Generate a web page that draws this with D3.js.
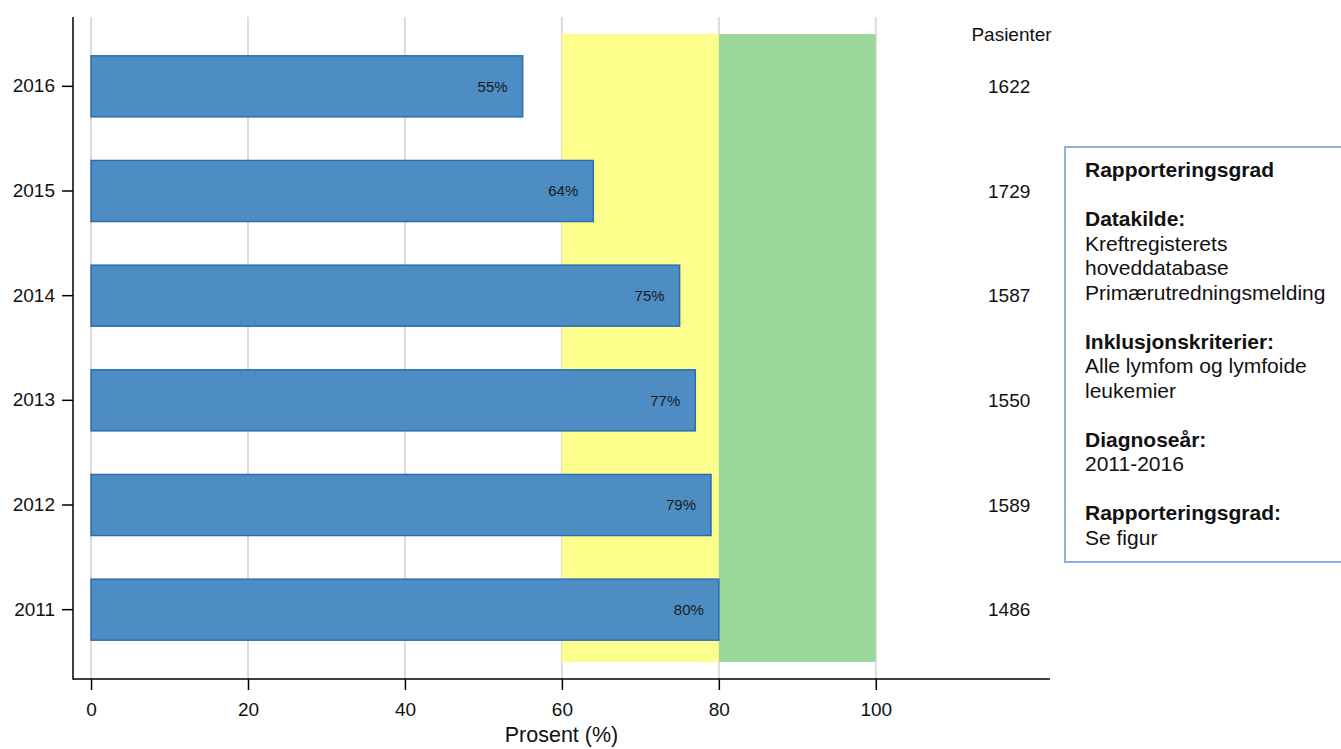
<!DOCTYPE html>
<html>
<head>
<meta charset="utf-8">
<script src="https://cdn.jsdelivr.net/npm/d3@7"></script>
<style>
  html, body { margin: 0; padding: 0; background: #fff; }
  svg { display: block; font-family: "Liberation Sans", Arial, sans-serif; }
</style>
</head>
<body>
<svg id="chart" width="1341" height="749"></svg>
<script>
// Reporting completeness by diagnosis year
const years = ["2016", "2015", "2014", "2013", "2012", "2011"];
const percent = [55, 64, 75, 77, 79, 80];
const patients = [1622, 1729, 1587, 1550, 1589, 1486];
const xTicks = [0, 20, 40, 60, 80, 100];
// Target zones: moderate (yellow) and high (green) completeness
const zones = [
  { from: 60, to: 80, color: "#fefe8c" },
  { from: 80, to: 100, color: "#9bd69a" }
];
const infoLines = [
  { text: "Rapporteringsgrad", bold: true },
  { text: "", bold: false },
  { text: "Datakilde:", bold: true },
  { text: "Kreftregisterets", bold: false },
  { text: "hoveddatabase", bold: false },
  { text: "Primærutredningsmelding", bold: false },
  { text: "", bold: false },
  { text: "Inklusjonskriterier:", bold: true },
  { text: "Alle lymfom og lymfoide", bold: false },
  { text: "leukemier", bold: false },
  { text: "", bold: false },
  { text: "Diagnoseår:", bold: true },
  { text: "2011-2016", bold: false },
  { text: "", bold: false },
  { text: "Rapporteringsgrad:", bold: true },
  { text: "Se figur", bold: false }
];

const svg = d3.select("#chart");

const x = d3.scaleLinear().domain([-2.3, 122.2]).range([73, 1050]);
const y = d3.scaleBand().domain(years).range([34, 662])
  .paddingInner(0.417).paddingOuter(0.2085);

const plotTop = 17, plotBottom = 679;

// vertical gridlines
svg.append("g").selectAll("line").data(xTicks).join("line")
  .attr("x1", d => x(d)).attr("x2", d => x(d))
  .attr("y1", plotTop).attr("y2", plotBottom)
  .attr("stroke", "#dcdcdc").attr("stroke-width", 2);

// target zones spanning all years
const [yStart, yEnd] = y.range();
svg.append("g").selectAll("rect").data(zones).join("rect")
  .attr("x", d => x(d.from)).attr("width", d => x(d.to) - x(d.from))
  .attr("y", yStart).attr("height", yEnd - yStart)
  .attr("fill", d => d.color);

// bars
const rows = years.map((yr, i) => ({ year: yr, pct: percent[i], n: patients[i] }));
svg.append("g").selectAll("rect").data(rows).join("rect")
  .attr("x", x(0)).attr("width", d => x(d.pct) - x(0))
  .attr("y", d => y(d.year)).attr("height", y.bandwidth())
  .attr("fill", "#4e8dc4").attr("stroke", "#2a6db3").attr("stroke-width", 1.5);

// value labels inside bars
svg.append("g").selectAll("text").data(rows).join("text")
  .attr("x", d => x(d.pct) - 15)
  .attr("y", d => y(d.year) + y.bandwidth() / 2)
  .attr("dy", "0.35em")
  .attr("text-anchor", "end")
  .attr("font-size", 15).attr("fill", "#1a1a1a")
  .text(d => d.pct + "%");

// patient counts column
svg.append("text").attr("x", x(117.3)).attr("y", 41)
  .attr("text-anchor", "middle").attr("font-size", 19).attr("fill", "#111")
  .text("Pasienter");
svg.append("g").selectAll("text").data(rows).join("text")
  .attr("x", x(117)).attr("y", d => y(d.year) + y.bandwidth() / 2)
  .attr("dy", "0.35em").attr("text-anchor", "middle")
  .attr("font-size", 19).attr("fill", "#111")
  .text(d => d.n);

// y axis
const yAxis = svg.append("g").attr("transform", "translate(73,0)")
  .call(d3.axisLeft(y).tickSize(11).tickPadding(7));
yAxis.select(".domain").remove();
yAxis.append("line").attr("x1", 0).attr("x2", 0)
  .attr("y1", plotTop).attr("y2", plotBottom + 0.75)
  .attr("stroke", "#000").attr("stroke-width", 1.5);

// x axis
const xAxis = svg.append("g").attr("transform", `translate(0,${plotBottom})`)
  .call(d3.axisBottom(x).tickValues(xTicks).tickSize(11).tickPadding(13));
xAxis.select(".domain").remove();
xAxis.append("line").attr("x1", x.range()[0]).attr("x2", x.range()[1])
  .attr("y1", 0).attr("y2", 0).attr("stroke", "#000").attr("stroke-width", 1.5);

[yAxis, xAxis].forEach(g => {
  g.selectAll(".tick line").attr("stroke", "#000").attr("stroke-width", 1.5);
  g.selectAll(".tick text").attr("font-size", 19).attr("fill", "#111")
    .attr("font-family", "Liberation Sans, Arial, sans-serif");
});

svg.append("text")
  .attr("x", (x.range()[0] + x.range()[1]) / 2).attr("y", 742)
  .attr("text-anchor", "middle").attr("font-size", 21.5).attr("fill", "#111")
  .text("Prosent (%)");

// info box
const box = svg.append("g");
box.append("rect").attr("x", 1065).attr("y", 147).attr("width", 300).attr("height", 415)
  .attr("fill", "#fff").attr("stroke", "#8fb1dc").attr("stroke-width", 2);
box.selectAll("text").data(infoLines).join("text")
  .attr("x", 1085).attr("y", (d, i) => 177 + i * 24.5)
  .attr("font-size", 21).attr("fill", "#111")
  .attr("font-weight", d => d.bold ? "bold" : "normal")
  .text(d => d.text);
</script>
</body>
</html>
